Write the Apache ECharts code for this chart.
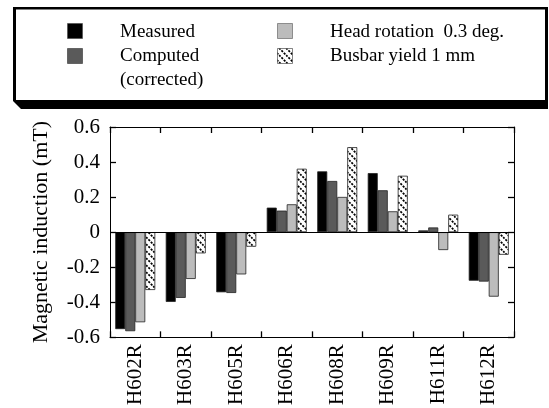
<!DOCTYPE html>
<html>
<head>
<meta charset="utf-8">
<script src="https://cdn.jsdelivr.net/npm/echarts@6/dist/echarts.min.js"></script>
<style>html,body{margin:0;padding:0;background:#fff}#main{width:549px;height:408px}</style>
</head>
<body>
<div id="main"></div>
<script>
// data (mT)
var sensors = ['H602R', 'H603R', 'H605R', 'H606R', 'H608R', 'H609R', 'H611R', 'H612R'];
var measured = [-0.553, -0.398, -0.343, 0.140, 0.347, 0.337, 0.010, -0.277];
var computed = [-0.565, -0.375, -0.347, 0.123, 0.292, 0.239, 0.027, -0.282];
var headRot = [-0.514, -0.267, -0.241, 0.159, 0.201, 0.119, -0.102, -0.368];
var busbar = [-0.330, -0.121, -0.083, 0.362, 0.485, 0.322, 0.100, -0.129];
var yTicks = [-0.6, -0.4, -0.2, 0, 0.2, 0.4, 0.6];

var serif = '"Liberation Serif", "DejaVu Serif", serif';

// hatch pattern for the busbar series
function hatch() {
  var c = document.createElement('canvas');
  c.width = 7; c.height = 7;
  var g = c.getContext('2d');
  g.fillStyle = '#fff';
  g.fillRect(0, 0, 7, 7);
  g.strokeStyle = '#000';
  g.lineWidth = 1.7;
  g.setLineDash([2.2, 1.2]);
  g.beginPath();
  g.moveTo(-1, -1); g.lineTo(8, 8);
  g.moveTo(-1, 6); g.lineTo(1, 8);
  g.moveTo(6, -1); g.lineTo(8, 1);
  g.stroke();
  return c;
}
var pat = { image: hatch(), repeat: 'repeat' };

var chart = echarts.init(document.getElementById('main'));

function bar(name, data, color) {
  return {
    name: name, type: 'bar', data: data,
    barWidth: 10, barGap: '0%',
    itemStyle: { color: color, borderColor: '#222', borderWidth: 0.8 },
    animation: false
  };
}

var series = [
  bar('Measured', measured, '#000'),
  bar('Computed', computed, '#5a5a5a'),
  bar('Head', headRot, '#bcbcbc'),
  bar('Busbar', busbar, pat)
];
// zero line
series[0].markLine = {
  silent: true, symbol: ['none', 'none'], label: { show: false },
  lineStyle: { color: '#000', width: 1, type: 'solid' },
  data: [{ yAxis: 0 }]
};

var txt = { fill: '#000', font: '19px ' + serif, verticalAlign: 'middle' };
function label(x, y, s) {
  return { type: 'text', x: x, y: y, style: Object.assign({ text: s }, txt) };
}

function ticks() { return { show: true, inside: true, length: 6, lineStyle: { color: '#000', width: 1.3 } }; }
function line() { return { show: true, onZero: false, lineStyle: { color: '#000', width: 1 } }; }

chart.setOption({
  animation: false,
  grid: { left: 110, right: 35, top: 127, bottom: 70 },
  xAxis: [{
    type: 'category', data: sensors, position: 'bottom',
    axisLine: line(),
    axisTick: ticks(),
    axisLabel: { rotate: 90, color: '#000', fontFamily: serif, fontSize: 21, margin: 7 }
  }, {
    type: 'category', data: sensors, position: 'top',
    axisLine: line(),
    axisTick: ticks(),
    axisLabel: { show: false }
  }],
  yAxis: [{
    type: 'value', min: yTicks[0], max: yTicks[yTicks.length - 1], interval: 0.2,
    name: 'Magnetic induction (mT)', nameLocation: 'middle', nameGap: 58,
    nameTextStyle: { color: '#000', fontFamily: serif, fontSize: 22 },
    axisLine: line(),
    axisTick: ticks(),
    axisLabel: { color: '#000', fontFamily: serif, fontSize: 21, margin: 10,
      formatter: function (v) { return String(Math.round(v * 10) / 10); } },
    splitLine: { show: false }
  }, {
    type: 'value', min: yTicks[0], max: yTicks[yTicks.length - 1], interval: 0.2, position: 'right',
    axisLine: line(),
    axisTick: ticks(),
    axisLabel: { show: false },
    splitLine: { show: false }
  }],
  series: series,
  graphic: [
    { type: 'polygon', shape: { points: [[13, 7], [548, 7], [548, 109], [21, 109], [13, 101]] }, style: { fill: '#000' } },
    { type: 'rect', shape: { x: 16, y: 9.5, width: 529, height: 90.5 }, style: { fill: '#fff' } },
    { type: 'rect', shape: { x: 67.5, y: 23.5, width: 15, height: 15 }, style: { fill: '#000', stroke: '#444', lineWidth: 0.6 } },
    { type: 'rect', shape: { x: 67.5, y: 48.5, width: 15, height: 15 }, style: { fill: '#5a5a5a', stroke: '#333', lineWidth: 0.6 } },
    { type: 'rect', shape: { x: 277.5, y: 23.5, width: 15, height: 15 }, style: { fill: '#bcbcbc', stroke: '#555', lineWidth: 0.6 } },
    { type: 'rect', shape: { x: 277.5, y: 48.5, width: 15, height: 15 }, style: { fill: pat, stroke: '#333', lineWidth: 0.6 } },
    label(120, 32, 'Measured'),
    label(120, 56, 'Computed'),
    label(120, 80, '(corrected)'),
    label(330, 32, 'Head rotation  0.3 deg.'),
    label(330, 56, 'Busbar yield 1 mm')
  ]
});
</script>
</body>
</html>
